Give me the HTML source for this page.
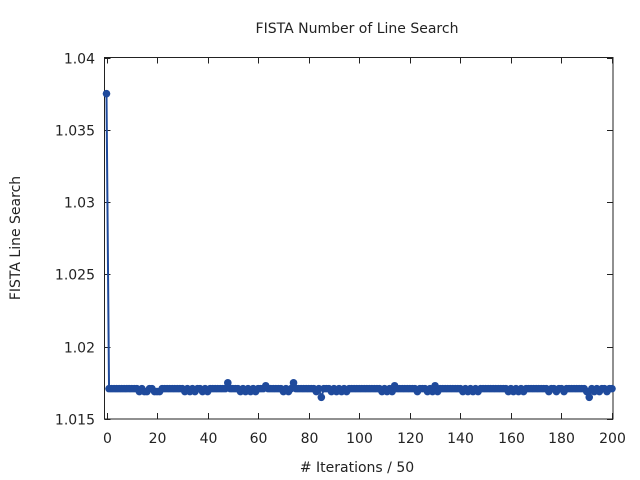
<!DOCTYPE html>
<html><head><meta charset="utf-8"><style>
body{margin:0;background:#fff;}
svg{display:block;font-family:"DejaVu Sans","Liberation Sans",sans-serif;}
</style></head><body>
<svg id="chart" width="640" height="480">
<rect width="640" height="480" fill="#fff"/>
<text x="357" y="33" text-anchor="middle" font-size="14" fill="#222">FISTA Number of Line Search</text>
<text x="357" y="472" text-anchor="middle" font-size="14" fill="#222"># Iterations / 50</text>
<text transform="translate(20,238) rotate(-90)" text-anchor="middle" font-size="14" fill="#222">FISTA Line Search</text>
<g id="axes"></g>
<g id="series"></g>
</svg>
<script>
const xTicks=[0,20,40,60,80,100,120,140,160,180,200];
const yTicks=[1.015,1.02,1.025,1.03,1.035,1.04];
const yTickLabels=["1.015","1.02","1.025","1.03","1.035","1.04"];
const B=1.0171,L=1.0169,H=1.0173,V=1.0165,T=1.0175;
const values=[1.0375,B,B,B,B,B,B,B,B,B,B,B,B,L,B,L,L,B,B,L,L,L,B,B,B,B,B,B,B,B,B,L,B,L,B,L,B,B,L,B,L,B,B,B,B,B,B,B,T,B,B,B,B,L,B,L,B,L,B,L,B,B,B,H,B,B,B,B,B,B,L,B,L,B,T,B,B,B,B,B,B,B,B,L,B,V,B,B,B,L,B,L,B,L,B,L,B,B,B,B,B,B,B,B,B,B,B,B,B,L,B,L,B,L,H,B,B,B,B,B,B,B,B,L,B,B,B,L,B,L,H,L,B,B,B,B,B,B,B,B,B,L,B,L,B,L,B,L,B,B,B,B,B,B,B,B,B,B,B,L,B,L,B,L,B,L,B,B,B,B,B,B,B,B,B,L,B,B,L,B,B,L,B,B,B,B,B,B,B,B,L,V,B,L,B,L,B,B,L,B,B];
const X0=106.5,X1=612,Y0=419,Y1=57.5;
const xs=v=>X0+(v-0)/(200-0)*(X1-X0);
const ys=v=>Y0-(v-1.015)/(1.04-1.015)*(Y0-Y1);
const NS="http://www.w3.org/2000/svg";
const ax=document.getElementById('axes');
function mk(tag,attrs,parent){const e=document.createElementNS(NS,tag);for(const k in attrs)e.setAttribute(k,attrs[k]);parent.appendChild(e);return e;}
const frame=mk('rect',{x:104.5,y:57.5,width:508.5,height:361.5,fill:'none',stroke:'#222','stroke-width':1},ax);


xTicks.forEach(t=>{
  const x=Math.round(xs(t))+0.5;
  const l=mk('line',{x1:x,x2:x,y1:419,y2:413,stroke:'#222'},ax);
  
  
  const l2=mk('line',{x1:x,x2:x,y1:57.5,y2:63.5,stroke:'#222'},ax);
  
  
  const tx=mk('text',{x:x,y:443,'text-anchor':'middle','font-size':14,fill:'#222'},ax);
  tx.textContent=t;
  
  
});
yTicks.forEach((t,i)=>{
  const y=Math.round(ys(t))+0.5;
  const l=mk('line',{x1:104.5,x2:110.5,y1:y,y2:y,stroke:'#222'},ax);
  
  
  const l2=mk('line',{x1:613,x2:607,y1:y,y2:y,stroke:'#222'},ax);
  
  
  const tx=mk('text',{x:95,y:y+5,'text-anchor':'end','font-size':14,fill:'#222'},ax);
  tx.textContent=yTickLabels[i];
  
  
});
const sg=document.getElementById('series');
const pts=values.map((v,i)=>xs(i).toFixed(2)+','+ys(v).toFixed(2)).join(' ');
const line=mk('polyline',{points:pts,fill:'none',stroke:'#1f4a9c','stroke-width':2},sg);


values.forEach((v,i)=>{
  const c=mk('circle',{cx:xs(i),cy:ys(v),r:3.8,fill:'#1f4a9c'},sg);
  
  
});
</script>
</body></html>
